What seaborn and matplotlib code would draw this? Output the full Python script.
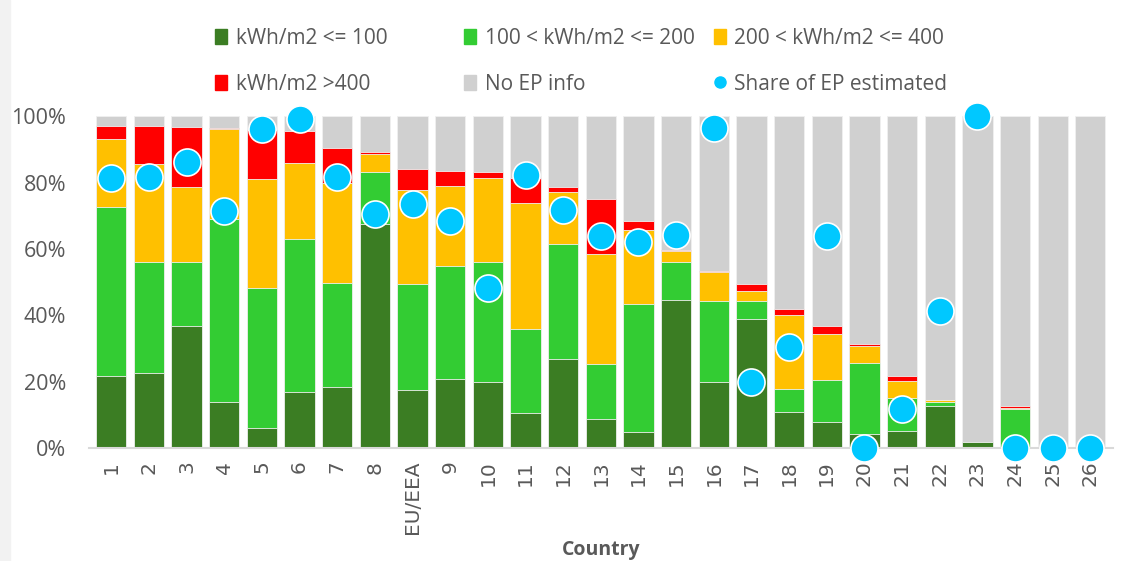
import numpy as np
import pandas as pd
import matplotlib
matplotlib.use('Agg')
import matplotlib.pyplot as plt
from matplotlib.lines import Line2D
from matplotlib.patches import Patch
import seaborn as sns

# Data (shares in %)
countries = ['1', '2', '3', '4', '5', '6', '7', '8', 'EU/EEA', '9', '10', '11', '12', '13',
             '14', '15', '16', '17', '18', '19', '20', '21', '22', '23', '24', '25', '26']
le_100 = [21.8, 22.7, 36.8, 14.0, 6.2, 17.0, 18.4, 67.5, 17.6, 20.8, 20.0, 10.7, 26.9, 8.8,
          4.8, 44.7, 20.0, 39.0, 10.9, 8.0, 4.4, 5.3, 12.6, 2.0, 0.3, 0.0, 0.0]
le_200 = [50.7, 33.3, 19.2, 54.9, 42.0, 45.9, 31.3, 15.7, 31.9, 34.2, 36.0, 25.1, 34.5, 16.5,
          38.7, 11.3, 24.4, 5.3, 7.0, 12.4, 21.4, 9.9, 1.3, 0.0, 11.6, 0.0, 0.0]
le_400 = [20.5, 29.7, 22.8, 27.2, 32.8, 23.1, 30.1, 5.4, 28.4, 23.9, 25.5, 37.9, 15.9, 33.2,
          22.2, 3.5, 8.6, 3.1, 22.2, 14.1, 5.0, 5.0, 0.5, 0.0, 0.3, 0.0, 0.0]
gt_400 = [4.1, 11.4, 17.9, 0.3, 14.7, 9.4, 10.5, 0.6, 6.1, 4.7, 1.6, 7.6, 1.3, 16.5,
          2.6, 0.3, 0.3, 2.0, 1.9, 2.3, 0.5, 1.6, 0.2, 0.0, 0.5, 0.0, 0.0]
ep_estimated = [81.3, 81.7, 86.2, 71.3, 96.1, 99.1, 81.8, 70.4, 73.6, 68.4, 48.1, 82.3, 71.8, 64.0,
                62.2, 64.3, 96.4, 20.0, 30.4, 63.9, 0.0, 11.7, 41.4, 100.0, 0.0, 0.0, 0.0]

C_DARK = '#3b7d23'
C_GREEN = '#33cc33'
C_YELLOW = '#ffc000'
C_RED = '#ff0000'
C_GREY = '#d0d0d0'
C_DOT = '#00c8ff'
C_TEXT = '#595959'

df = pd.DataFrame({'country': countries, 'le_100': le_100, 'le_200': le_200,
                   'le_400': le_400, 'gt_400': gt_400, 'est': ep_estimated})
df['top_dark'] = df['le_100'] / 100
df['top_green'] = (df['le_100'] + df['le_200']) / 100
df['top_yellow'] = (df['le_100'] + df['le_200'] + df['le_400']) / 100
df['top_red'] = (df['le_100'] + df['le_200'] + df['le_400'] + df['gt_400']) / 100
df['top_grey'] = 1.0

sns.set_style('white')
plt.rcParams['font.family'] = ['Open Sans', 'DejaVu Sans']

fig = plt.figure(figsize=(11.22, 5.61), dpi=100)
fig.patches.append(plt.Rectangle((0, 0), 0.009, 1, transform=fig.transFigure,
                                 color='#f2f2f2', zorder=0))
ax = fig.add_axes([0.079, 0.201, 0.913, 0.592])

# stacked bars: draw cumulative tops from tallest to shortest
for col, c in [('top_grey', C_GREY), ('top_red', C_RED), ('top_yellow', C_YELLOW),
               ('top_green', C_GREEN), ('top_dark', C_DARK)]:
    sns.barplot(data=df, x='country', y=col, color=c, saturation=1, width=0.8,
                ax=ax, linewidth=0.6, edgecolor='#f0f0f0')

ax.scatter(np.arange(len(countries)), df['est'] / 100, s=380, color=C_DOT,
           edgecolor='white', linewidth=1.2, zorder=5, clip_on=False)

ax.set_ylim(0, 1)
ax.set_xlim(-0.6, len(countries) - 0.4)
ax.set_yticks(np.arange(0, 1.01, 0.2))
ax.set_yticklabels([f'{int(v)}%' for v in np.arange(0, 101, 20)], fontsize=15.5, color=C_TEXT)
ax.set_xticks(np.arange(len(countries)))
ax.set_xticklabels(countries, rotation=90, fontsize=14.5, color=C_TEXT,
                   family=['DejaVu Sans'])
ax.tick_params(axis='y', length=0, pad=16)
ax.tick_params(axis='x', length=0, pad=9)
ax.set_ylabel('')
ax.set_xlabel('Country', fontsize=14, fontweight='bold', color=C_TEXT, labelpad=4)
for s in ['top', 'right', 'left']:
    ax.spines[s].set_visible(False)
ax.spines['bottom'].set_color('#d9d9d9')
ax.spines['bottom'].set_linewidth(1.5)

# legend: three columns of two entries, placed like the original
legend_cols = [
    (0.1916, [Patch(color=C_DARK, label='kWh/m2 <= 100'),
              Patch(color=C_RED, label='kWh/m2 >400')]),
    (0.4135, [Patch(color=C_GREEN, label='100 < kWh/m2 <= 200'),
              Patch(color=C_GREY, label='No EP info')]),
    (0.636, [Patch(color=C_YELLOW, label='200 < kWh/m2 <= 400'),
             Line2D([], [], marker='o', linestyle='none', markersize=8, color=C_DOT,
                    label='Share of EP estimated')]),
]
for x0, hs in legend_cols:
    leg = fig.legend(handles=hs, loc='center left', bbox_to_anchor=(x0, 0.891),
                     frameon=False, fontsize=15, handlelength=0.6, handleheight=0.7,
                     handletextpad=0.4, labelspacing=1.2, borderpad=0, borderaxespad=0)
    for t in leg.get_texts():
        t.set_color(C_TEXT)

fig.savefig('out.png', dpi=100)
